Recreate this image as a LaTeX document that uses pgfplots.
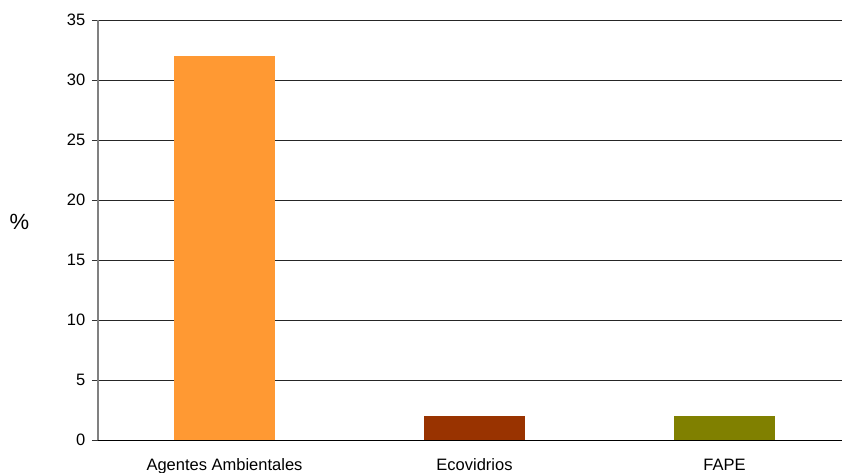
\documentclass[border=0pt]{standalone}
\usepackage{pgfplots}
\pgfplotsset{compat=1.18}
\usepackage{fontspec}
\setmainfont{Liberation Sans}
\definecolor{cA}{HTML}{FF9933}
\definecolor{cB}{HTML}{993300}
\definecolor{cC}{HTML}{808000}
\begin{document}
\fontsize{16.5pt}{19pt}\selectfont
\begin{tikzpicture}
\begin{axis}[
  scale only axis,
  width=744pt, height=420pt,
  xmin=-0.506, xmax=2.47,
  ymin=0, ymax=35,
  ytick={0,5,...,35},
  xtick={0,1,2},
  xticklabels={Agentes Ambientales, Ecovidrios, FAPE},
  x tick style={draw=none},
  extra x ticks={0.5,1.5},
  extra x tick labels={},
  extra x tick style={major tick length=6pt, tick style={draw=black, line width=0.8pt}, tick align=outside},
  ymajorgrids,
  grid style={black!85, line width=0.9pt},
  y tick style={black!80, line width=0.8pt},
  major tick length=6pt,
  tick align=outside,
  axis line style={draw=none},
  clip=false,
  xticklabel style={anchor=north, yshift=-7pt},
  yticklabel style={anchor=east, xshift=-1pt},
  /pgf/number format/assume math mode=true,
  ybar, bar width=101pt, bar shift=0pt,
  every axis plot/.append style={draw=none},
]
\addplot[fill=cA] coordinates {(0,32)};
\addplot[fill=cB] coordinates {(1,2)};
\addplot[fill=cC] coordinates {(2,2)};
\draw[black!50, line width=1.2pt] (rel axis cs:0,0) -- (rel axis cs:0,1);
\draw[black, line width=1pt] (rel axis cs:0,0) -- (rel axis cs:1,0);
\node at (rel axis cs:0,0.52) [xshift=-78.5pt, font=\fontsize{22pt}{24pt}\selectfont] {\%};
\coordinate (bl) at (rel axis cs:0,0);
\end{axis}
\pgfresetboundingbox
\path[use as bounding box] (bl) ++(-98pt,-33pt) rectangle ++(842pt,473pt);
\end{tikzpicture}
\end{document}
